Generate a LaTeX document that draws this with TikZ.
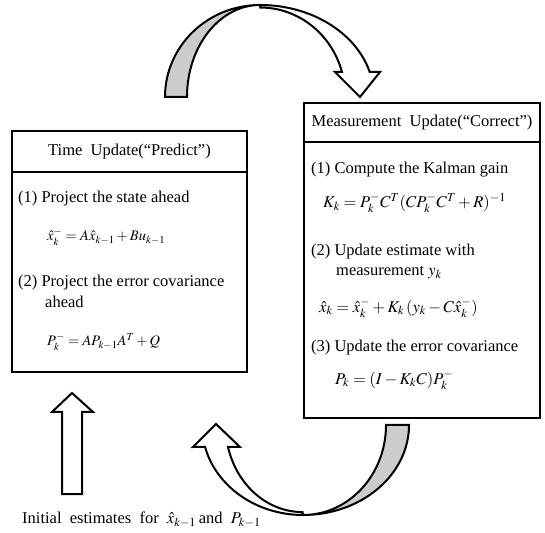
\documentclass[tikz,border=0pt]{standalone}
\usepackage{mathptmx}
\usepackage{fontspec}
\setmainfont{Liberation Serif}
\usepackage{tikz}
\usetikzlibrary{positioning}
\tikzstyle{hdr} = [draw, line width=2.4pt, outer sep=0pt, inner sep=0pt]
\tikzstyle{txt} = [anchor=west, inner sep=0pt]
\tikzstyle{smalleq} = [txt, font=\fontsize{14.5}{18}\selectfont]
\tikzstyle{fatarrow} = [draw, line width=2pt, line join=miter, fill=white]
\tikzstyle{backside} = [draw, line width=2pt, line join=miter, fill=black!20]

\begin{document}
\begin{tikzpicture}[x=1pt, y=1pt, font=\fontsize{16.5}{20}\selectfont]
\useasboundingbox (0,0) rectangle (545,532);

% time update
\node[hdr, minimum width=235pt, minimum height=41pt] (tu) at (129.5,380.5) {Time\ \ Update(``Predict'')};
\node[hdr, minimum width=235pt, minimum height=200pt, below=0pt of tu] (tubody) {};

\node[txt] (tu1) at (18,333) {(1) Project the state ahead};
\node[smalleq] (tueq1) at (47,295) {$\hat{x}_k^{-} = A\hat{x}_{k-1} + Bu_{k-1}$};
\node[txt] (tu2) at (18,249) {(2) Project the error covariance};
\node[txt] (tu2b) at (45,230) {ahead};
\node[smalleq] (tueq2) at (47,190) {$P_k^{-} = AP_{k-1}A^T + Q$};

% measurement update
\node[hdr, minimum width=236pt, minimum height=39pt] (mu) at (422,409.5) {Measurement\ \ Update(``Correct'')};
\node[hdr, minimum width=236pt, minimum height=276pt, below=0pt of mu] (mubody) {};

\node[txt] (mu1) at (311,362) {(1) Compute\ the\ Kalman\ gain};
\node[txt] (mueq1) at (323,329) {$K_k = P_k^{-}C^T(CP_k^{-}C^T + R)^{-1}$};
\node[txt] (mu2) at (311,280) {(2) Update estimate\ with};
\node[txt] (mu2b) at (336,259) {measurement\ $y_k$};
\node[txt] (mueq2) at (319,224) {$\hat{x}_k = \hat{x}_k^{-} + K_k\,(y_k - C\hat{x}_k^{-})$};
\node[txt] (mu3) at (311,184) {(3) Update the error covariance};
\node[txt] (mueq3) at (335,152) {$P_k = (I - K_kC)P_k^{-}$};

% initial estimates
\node[txt] (init) at (22,12) {Initial\ \ estimates\ \ for\ \ $\hat{x}_{k-1}$\,and\ \ $P_{k-1}$};
\draw[fatarrow] (62,38) -- (62,120) -- (52,120) -- (72,139) -- (93,120) -- (82,120) -- (82,38) -- cycle;

% curved arrows
\draw[backside] (165,435) arc (180:90:95 and 92) arc (90:180:73 and 92) -- cycle;
\draw[fatarrow] (260,527) arc (90:15.77:114 and 92) -- (380,460) -- (360,435) -- (335,460) -- (342,460) arc (16:90:85 and 89) -- cycle;

\draw[backside] (409,107) arc (0:-90:106 and 90) arc (-90:0:83 and 90) -- cycle;
\draw[fatarrow] (303,17) arc (270:194:101 and 90) -- (193,85) -- (216,108) -- (240,85) -- (228,85) arc (194.6:270:77 and 87) -- cycle;
\end{tikzpicture}
\end{document}
